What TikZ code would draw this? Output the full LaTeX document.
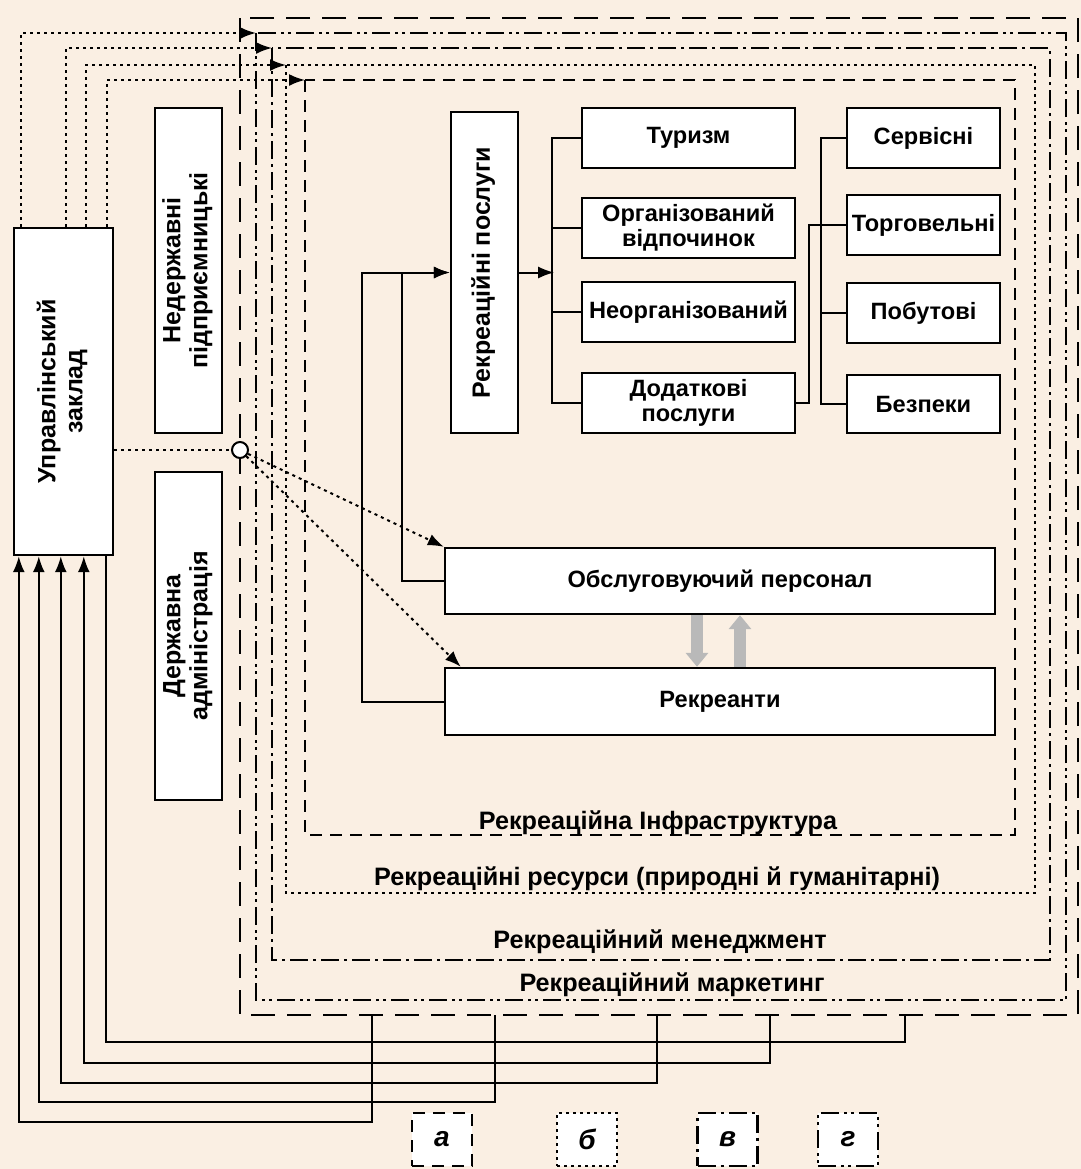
\documentclass[tikz,border=0pt]{standalone}
\usepackage{fontspec}
\setmainfont{Liberation Sans}
\usepackage{graphicx}
\usetikzlibrary{positioning, calc, arrows.meta}
\definecolor{tlo}{RGB}{250,239,227}
\newcommand{\povernut}[1]{\rotatebox{90}{\begin{tabular}{@{}c@{}}#1\end{tabular}}}
\tikzset{
	% bloky
	blok/.style={
		draw,
		fill=white,
		line width=1.2pt,
		inner sep=1pt,
		align=center,
		font=\fontsize{11.8}{12.5}\selectfont\bfseries
	}, %
	vblok/.style={
		blok,
		font=\fontsize{12.5}{13.5}\selectfont\bfseries
	}, %
	% linii
	zv/.style={line width=1pt},
	arr/.style={-{Latex[length=8pt,width=6pt]}},
	punktyr/.style={line width=1pt, dash pattern=on 1.5pt off 2pt},
	siri/.style={line width=6pt, draw=gray!55, -{Triangle[length=7pt,width=11pt]}},
	% ramky
	ramka zovn/.style={line width=1.2pt, dash pattern=on 12pt off 6pt},
	ramka market/.style={line width=1.2pt, dash pattern=on 9pt off 2.5pt on 1.5pt off 2pt on 1.5pt off 2.5pt},
	ramka menedzh/.style={line width=1.2pt, dash pattern=on 9pt off 2.5pt on 1.5pt off 2.5pt},
	ramka resurs/.style={line width=1.2pt, dash pattern=on 1.5pt off 2pt},
	ramka infra/.style={line width=1.2pt, dash pattern=on 6pt off 4pt},
	napys/.style={font=\fontsize{12.6}{13}\selectfont\bfseries},
	legenda/.style={
		draw,
		fill=white,
		minimum width=30pt,
		minimum height=26.5pt,
		font=\fontsize{14}{14}\selectfont\bfseries\itshape
	} %
}

\begin{document}
\begin{tikzpicture}[x=0.5pt, y=-0.5pt]
	% tlo
	\fill[tlo] (0,0) rectangle (1081,1169);
	\useasboundingbox (0,0) rectangle (1081,1169);
	
	% ramky
	\draw[ramka zovn] (240,18) rectangle (1078,1015);
	\draw[ramka market] (256,33) rectangle (1066,1000);
	\draw[ramka menedzh] (272,48) rectangle (1050,960);
	\draw[ramka resurs] (286,65) rectangle (1035,893);
	\draw[ramka infra] (305,80) rectangle (1015,835);
	
	% kuty ramok
	\coordinate (kMarket) at (256,33);
	\coordinate (kMenedzh) at (272,48);
	\coordinate (kResurs) at (286,65);
	\coordinate (kInfra) at (305,80);
	
	% napysy ramok
	\node[napys] (nInfra) at (658,823) {Рекреаційна Інфраструктура};
	\node[napys] (nResurs) at (657,879) {Рекреаційні ресурси (природні й гуманітарні)};
	\node[napys] (nMenedzh) at (660,942) {Рекреаційний менеджмент};
	\node[napys] (nMarket) at (672,985) {Рекреаційний маркетинг};
	
	% zliva
	\node[vblok, minimum width=49.5pt, minimum height=163.5pt] (upr) at (63.5,391.5) {\povernut{Управлінський\\заклад}};
	\node[vblok, minimum width=33.5pt, minimum height=162.5pt] (nederzh) at (188.5,270.5) {\povernut{Недержавні\\підприємницькі}};
	\node[vblok, minimum width=33.5pt, minimum height=164pt] (derzh) at (188.5,636) {\povernut{Державна\\адміністрація}};
	\node[draw, circle, fill=white, line width=1pt, minimum size=8pt, inner sep=0pt] (vuzol) at (240,450) {};
	
	% poslugy
	\node[vblok, minimum width=33.5pt, minimum height=160.5pt] (posl) at (484.5,272.5) {\povernut{Рекреаційні послуги}};
	\node[blok, minimum width=106.5pt, minimum height=30pt] (tur) at (688.5,138) {Туризм};
	\node[blok, minimum width=106.5pt, minimum height=30pt] (org) at (688.5,228) {Організований\\відпочинок};
	\node[blok, minimum width=106.5pt, minimum height=30pt] (neorg) at (688.5,312) {Неорганізований};
	\node[blok, minimum width=106.5pt, minimum height=30pt] (dod) at (688.5,403) {Додаткові\\послуги};
	\node[blok, minimum width=76.5pt, minimum height=30pt] (serv) at (923.5,138) {Сервісні};
	\node[blok, minimum width=76.5pt, minimum height=30pt] (torg) at (923.5,225) {Торговельні};
	\node[blok, minimum width=76.5pt, minimum height=30pt] (pob) at (923.5,313) {Побутові};
	\node[blok, minimum width=76.5pt, minimum height=29pt] (bezp) at (923.5,404) {Безпеки};
	
	% personal i rekreanty
	\node[blok, minimum width=275pt, minimum height=33pt] (pers) at (720,581) {Обслуговуючий персонал};
	\node[blok, minimum width=275pt, minimum height=33.5pt] (rekr) at (720,701.5) {Рекреанти};
	
	% shyny
	\draw[zv, arr] (posl.east) -- ++(35,0);
	\draw[zv] (tur.west) -- ++(-29,0) |- (dod.west);
	\draw[zv] (org.west) -- ++(-29,0);
	\draw[zv] (neorg.west) -- ++(-29,0);
	\draw[zv] (serv.west) -- ++(-25,0) |- (bezp.west);
	\draw[zv] (pob.west) -- ++(-25,0);
	\draw[zv] (dod.east) -- ++(13,0) |- (torg.west);
	\draw[zv, arr] (pers.west) -- ++(-42,0) |- (posl.west);
	\draw[zv, arr] (rekr.west) -- ++(-82,0) |- (posl.west);
	
	% siri strilky
	\draw[siri] ([xshift=-11.5pt]pers.south) -- ([xshift=-11.5pt]rekr.north);
	\draw[siri] ([xshift=10pt]rekr.north) -- ([xshift=10pt]pers.south);
	
	% vuzol
	\draw[punktyr] (vuzol -| upr.east) -- (vuzol);
	\draw[punktyr, arr] (vuzol) -- (pers.north west);
	\draw[punktyr, arr] (vuzol) -- ($(rekr.north west)+(17,0)$);
	
	% vgori
	\draw[punktyr, arr] ([xshift=4pt]upr.north west) |- (kMarket);
	\draw[punktyr, arr] ([xshift=26.5pt]upr.north west) |- (kMenedzh);
	\draw[punktyr, arr] ([xshift=36.5pt]upr.north west) |- (kResurs);
	\draw[punktyr, arr] ([xshift=47pt]upr.north west) |- (kInfra);
	
	% vnyzu
	\coordinate (z1) at (372,1015);
	\coordinate (z2) at (495,1015);
	\coordinate (z3) at (657,1015);
	\coordinate (z4) at (770,1015);
	\coordinate (z5) at (905,1015);
	\draw[zv, arr] (z1) -- ++(0,107) -| ([xshift=3pt]upr.south west);
	\draw[zv, arr] (z2) -- ++(0,87) -| ([xshift=13pt]upr.south west);
	\draw[zv, arr] (z3) -- ++(0,68) -| ([xshift=24pt]upr.south west);
	\draw[zv, arr] (z4) -- ++(0,48) -| ([xshift=35.5pt]upr.south west);
	\draw[zv] (z5) -- ++(0,27) -| ([xshift=46.5pt]upr.south west);
	
	% legenda
	\node[legenda, ramka infra] (la) at (442,1139.5) {а};
	\node[legenda, ramka resurs] (lb) at (587,1139.5) {б};
	\node[legenda, ramka menedzh] (lv) at (727.5,1139.5) {в};
	\node[legenda, ramka market] (lg) at (848,1139.5) {г};
\end{tikzpicture}
\end{document}
